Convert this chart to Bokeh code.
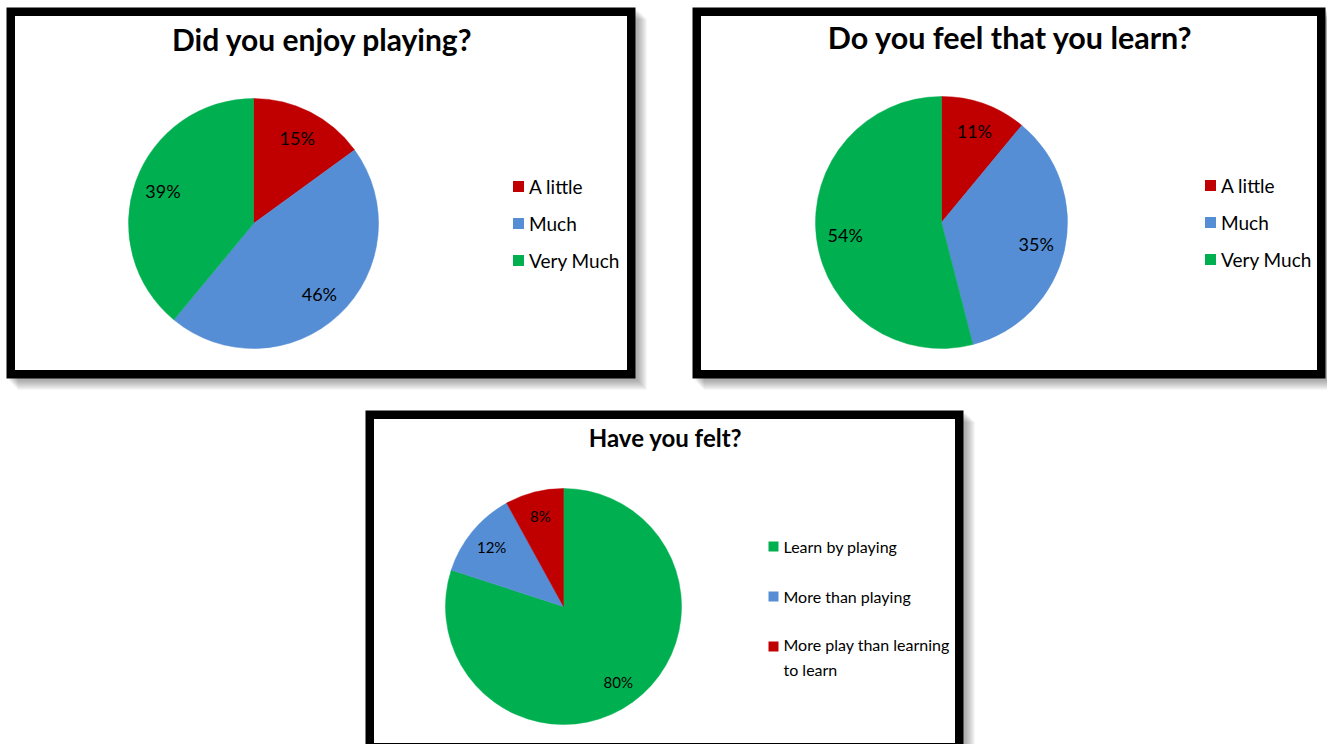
import math
from bokeh.plotting import figure
from bokeh.models import Range1d
from bokeh.core.properties import value
from bokeh.embed import file_html
from bokeh.resources import INLINE

# ---------------- data ----------------
titles = ["Did you enjoy playing?", "Do you feel that you learn?", "Have you felt?"]

enjoy_categories = ["A little", "Much", "Very Much"]
enjoy_values = [15, 46, 39]

learn_categories = ["A little", "Much", "Very Much"]
learn_values = [11, 35, 54]

felt_categories = ["Learn by playing", "More than playing", "More play than learning\nto learn"]
felt_values = [80, 12, 8]

RED = "#C00000"
BLUE = "#558ED5"
GREEN = "#00B050"
enjoy_colors = [RED, BLUE, GREEN]
learn_colors = [RED, BLUE, GREEN]
felt_colors = [GREEN, BLUE, RED]

W, H = 1327, 744
FONT = "Lato"

p = figure(width=W, height=H, output_backend="svg", toolbar_location=None,
           x_range=Range1d(0, W), y_range=Range1d(0, H), min_border=0,
           background_fill_color="white", border_fill_color="white")
p.axis.visible = False
p.grid.visible = False
p.outline_line_color = None


def Y(y):
    return H - y


panels = [
    dict(title=titles[0], cats=enjoy_categories, vals=enjoy_values, cols=enjoy_colors,
         box=(6, 635, 7, 378), center=(253, 223), R=125, title_xy=(322, 38), title_size=30,
         leg_x=518, leg_y=[186, 223, 260], leg_font=19, lab_font=18, lab_r=0.77, sq=11, lh=1.4),
    dict(title=titles[1], cats=learn_categories, vals=learn_values, cols=learn_colors,
         box=(692, 1325, 7, 378), center=(941, 222), R=126, title_xy=(1010, 36), title_size=30.5,
         leg_x=1210, leg_y=[185, 222, 259], leg_font=19, lab_font=18, lab_r=0.77, sq=11, lh=1.4),
    dict(title=titles[2], cats=felt_categories, vals=felt_values, cols=felt_colors,
         box=(365, 963, 410, 751), center=(563, 606), R=118, title_xy=(665, 437), title_size=24,
         leg_x=773, leg_y=[546, 596, 646], leg_font=16, lab_font=15, lab_r=0.79, sq=10, lh=1.32),
]

for pn in panels:
    l, r, t, b = pn["box"]
    # soft shadow
    for off in [11, 9, 7, 5, 3]:
        p.quad(left=l + off, right=r + off, top=Y(t + off), bottom=Y(b + off),
               fill_color="black", fill_alpha=0.07, line_color=None)
    bw = 8.5
    p.quad(left=l + bw / 2, right=r - bw / 2, top=Y(t + bw / 2), bottom=Y(b - bw / 2),
           fill_color="white", line_color="black", line_width=bw, line_join="miter")

    # title
    tx, ty = pn["title_xy"]
    p.text(x=[tx], y=[Y(ty)], text=[pn["title"]], text_align="center", text_baseline="middle",
           text_font=value(FONT), text_font_style="bold", text_font_size=f"{pn['title_size']}px",
           text_color="black")

    # pie: clockwise from 12 o'clock
    cx, cy = pn["center"]
    total = float(sum(pn["vals"]))
    cum = 0.0
    starts, ends, lx, ly, labs = [], [], [], [], []
    for v in pn["vals"]:
        a0 = cum / total * 2 * math.pi
        cum += v
        a1 = cum / total * 2 * math.pi
        starts.append(math.pi / 2 - a1)
        ends.append(math.pi / 2 - a0)
        mid = (a0 + a1) / 2
        rr = pn["R"] * pn["lab_r"]
        lx.append(cx + rr * math.sin(mid))
        ly.append(Y(cy - rr * math.cos(mid)))
        labs.append(f"{v}%")
    p.wedge(x=cx, y=Y(cy), radius=pn["R"], start_angle=starts, end_angle=ends,
            fill_color=pn["cols"], line_color=pn["cols"], line_width=0.5)
    p.text(x=lx, y=ly, text=labs, text_align="center", text_baseline="middle",
           text_font=value(FONT), text_font_size=f"{pn['lab_font']}px", text_color="black")

    # legend
    lg_x = pn["leg_x"]
    sq = pn["sq"]
    n = len(pn["cats"])
    line_px = pn["leg_font"] * pn["lh"]
    text_y = [Y(yv + (c.count("\n")) * line_px / 2) for c, yv in zip(pn["cats"], pn["leg_y"])]
    p.scatter(x=[lg_x] * n, y=[Y(v) for v in pn["leg_y"]], marker="square",
              size=sq, fill_color=pn["cols"], line_color=None)
    p.text(x=[lg_x + sq / 2 + 5] * n, y=text_y,
           text=pn["cats"], text_align="left", text_baseline="middle",
           text_font=value(FONT), text_font_size=f"{pn['leg_font']}px", text_color="black",
           text_line_height=pn["lh"])

open("out.html", "w").write(file_html(p, INLINE))
